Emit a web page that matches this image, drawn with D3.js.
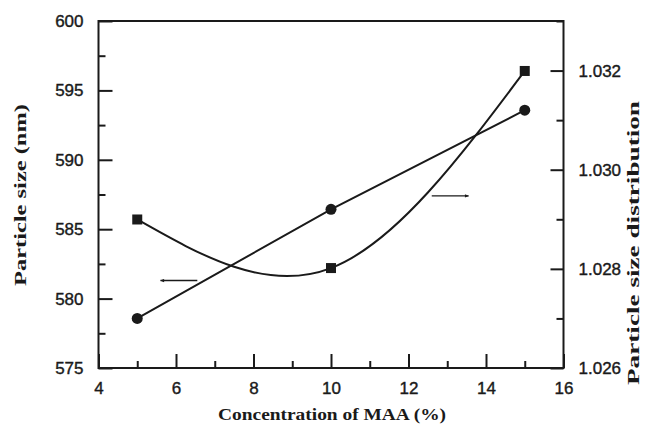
<!DOCTYPE html>
<html>
<head>
<meta charset="utf-8">
<script src="https://cdn.jsdelivr.net/npm/d3@7"></script>
<style>
  html, body { margin: 0; padding: 0; background: #fff; }
  svg { display: block; }
</style>
</head>
<body>
<svg id="chart" width="646" height="434"></svg>
<script>
// ---- data ----
const concentration = [5, 10, 15];
const particleSize = [585.7, 582.2, 596.4];          // left axis (squares)
const sizeDistribution = [1.0270, 1.0292, 1.0312];   // right axis (circles)
const xTicks = [4, 6, 8, 10, 12, 14, 16];
const leftTicks = [575, 580, 585, 590, 595, 600];
const rightTicks = [1.026, 1.028, 1.030, 1.032];
const leftArrow = [[6.55, 581.3], [5.6, 581.3]];     // points to left axis
const rightArrow = [[12.6, 587.4], [13.55, 587.4]];  // points to right axis

const svg = d3.select("#chart");
const L = 98.5, R = 563.5, T = 21, B = 368;
const ink = "#1a1a1a";

const x = d3.scaleLinear().domain([4, 16]).range([L, R]);
const yL = d3.scaleLinear().domain([575, 600]).range([B, T]);
const yR = d3.scaleLinear().domain([1.026, 1.033]).range([B, T]);

const tickFont = "'Liberation Sans', Arial, sans-serif";
const titleFont = "'Liberation Serif', 'Times New Roman', serif";

function styleAxis(g) {
  g.attr("font-size", 17).attr("font-family", tickFont);
  g.select(".domain").remove();
  g.selectAll(".tick line").attr("stroke", ink).attr("stroke-width", 2);
  g.selectAll(".tick text").attr("fill", ink)
    .attr("stroke", ink).attr("stroke-width", 0.4)
    .attr("font-size", 17)
    .style("font-family", tickFont).style("font-size", "17px");
}

// minor ticks
const xMinor = d3.range(5, 16, 2);
const lMinor = d3.range(577.5, 600, 5);
const rMinor = d3.range(1.027, 1.0331, 0.002);

svg.append("g").attr("transform", `translate(0,${B})`)
  .call(d3.axisBottom(x).tickValues(xMinor).tickSize(-7).tickFormat(""))
  .call(styleAxis);
svg.append("g").attr("transform", `translate(0,${B})`)
  .call(d3.axisBottom(x).tickValues(xTicks).tickSize(-14).tickPadding(14).tickFormat(d3.format("d")))
  .call(styleAxis);

svg.append("g").attr("transform", `translate(${L},0)`)
  .call(d3.axisLeft(yL).tickValues(lMinor).tickSize(-7).tickFormat(""))
  .call(styleAxis);
svg.append("g").attr("transform", `translate(${L},0)`)
  .call(d3.axisLeft(yL).tickValues(leftTicks).tickSize(-14).tickPadding(15).tickFormat(d3.format("d")))
  .call(styleAxis);

svg.append("g").attr("transform", `translate(${R},0)`)
  .call(d3.axisRight(yR).tickValues(rMinor).tickSize(-7).tickFormat(""))
  .call(styleAxis);
svg.append("g").attr("transform", `translate(${R},0)`)
  .call(d3.axisRight(yR).tickValues(rightTicks).tickSize(-13).tickPadding(15).tickFormat(d3.format(".3f")))
  .call(styleAxis);

// frame
svg.append("rect").attr("x", L).attr("y", T).attr("width", R - L).attr("height", B - T)
  .attr("fill", "none").attr("stroke", ink).attr("stroke-width", 2);

// particle size curve (squares)
const sqData = concentration.map((c, i) => [c, particleSize[i]]);
svg.append("path").datum(sqData)
  .attr("fill", "none").attr("stroke", ink).attr("stroke-width", 2)
  .attr("d", d3.line().x(d => x(d[0])).y(d => yL(d[1])).curve(d3.curveNatural));
svg.selectAll(".sq").data(sqData).enter().append("rect")
  .attr("x", d => x(d[0]) - 5).attr("y", d => yL(d[1]) - 5)
  .attr("width", 10).attr("height", 10).attr("fill", ink);

// distribution line (circles)
const ciData = concentration.map((c, i) => [c, sizeDistribution[i]]);
svg.append("path").datum(ciData)
  .attr("fill", "none").attr("stroke", ink).attr("stroke-width", 2)
  .attr("d", d3.line().x(d => x(d[0])).y(d => yR(d[1])));
svg.selectAll(".ci").data(ciData).enter().append("circle")
  .attr("cx", d => x(d[0])).attr("cy", d => yR(d[1])).attr("r", 5.5).attr("fill", ink);

// arrows
const defs = svg.append("defs");
defs.append("marker").attr("id", "ah").attr("viewBox", "0 0 10 10")
  .attr("refX", 9).attr("refY", 5).attr("markerWidth", 6).attr("markerHeight", 4)
  .attr("orient", "auto").attr("markerUnits", "userSpaceOnUse")
  .append("path").attr("d", "M0,1 L10,5 L0,9 Z").attr("fill", ink);
[leftArrow, rightArrow].forEach(a => {
  svg.append("line")
    .attr("x1", x(a[0][0])).attr("y1", yL(a[0][1]))
    .attr("x2", x(a[1][0])).attr("y2", yL(a[1][1]))
    .attr("stroke", ink).attr("stroke-width", 1.4)
    .attr("marker-end", "url(#ah)");
});

// titles
svg.append("text").attr("x", 332).attr("y", 420).attr("text-anchor", "middle")
  .attr("fill", ink).style("font-family", titleFont).style("font-weight", "bold").style("font-size", "17px")
  .attr("textLength", 228).attr("lengthAdjust", "spacingAndGlyphs")
  .text("Concentration of MAA (%)");

svg.append("text").attr("transform", "translate(26,195) rotate(-90)").attr("text-anchor", "middle")
  .attr("fill", ink).style("font-family", titleFont).style("font-weight", "bold").style("font-size", "17px")
  .attr("textLength", 182).attr("lengthAdjust", "spacingAndGlyphs")
  .text("Particle size (nm)");

svg.append("text").attr("transform", "translate(639,243) rotate(-90)").attr("text-anchor", "middle")
  .attr("fill", ink).style("font-family", titleFont).style("font-weight", "bold").style("font-size", "17px")
  .attr("textLength", 284).attr("lengthAdjust", "spacingAndGlyphs")
  .text("Particle size distribution");
</script>
</body>
</html>
